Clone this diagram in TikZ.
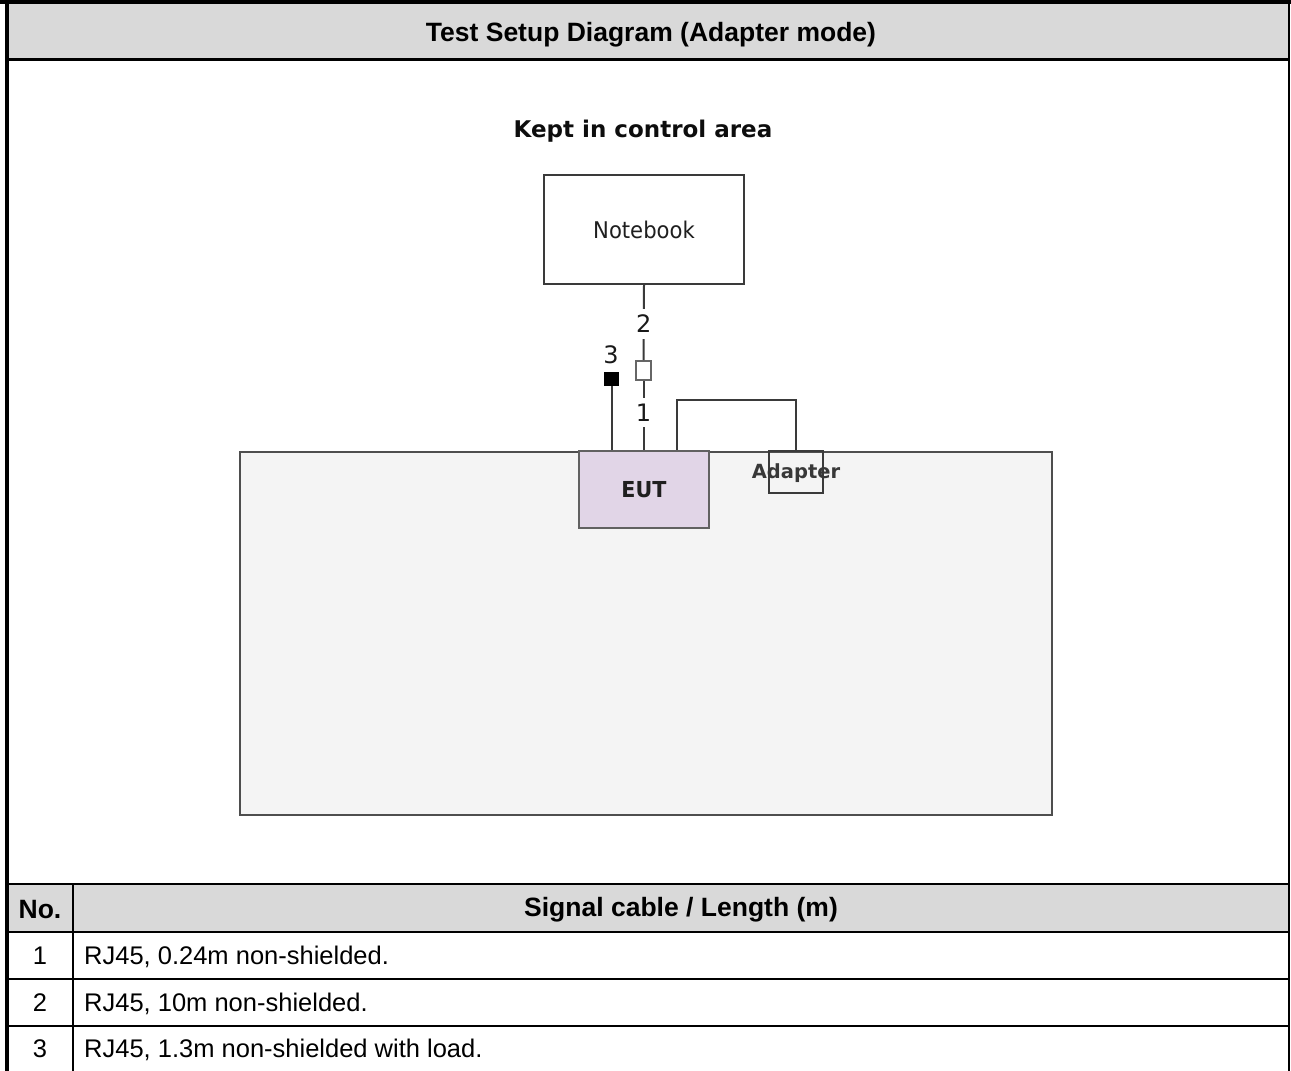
\documentclass[tikz,border=0pt]{standalone}
\usepackage{fontspec}
\setmainfont{Liberation Sans}
\newfontfamily\dejavu{DejaVu Sans}
\usepackage{graphicx}
\definecolor{hdrgray}{HTML}{D9D9D9}
\definecolor{panelgray}{HTML}{F4F4F4}
\definecolor{eutfill}{HTML}{E1D5E7}
\definecolor{linegray}{HTML}{3A3A3A}
\tikzset{
  hdrtext/.style={font=\fontsize{26.5}{30}\selectfont\bfseries, inner sep=0pt},
  celltext/.style={font=\fontsize{25.5}{30}\selectfont, inner sep=0pt},
  rule/.style={line width=2pt, black},
  boxstyle/.style={draw=linegray, line width=2pt, inner sep=0pt},
  cable/.style={draw=linegray, line width=2pt},
  cablelbl/.style={font=\dejavu\fontsize{24}{26}\selectfont, fill=white, inner xsep=1pt, inner ysep=6pt, text=black!90},
}
\begin{document}
\begin{tikzpicture}[x=1pt,y=-1pt]
\useasboundingbox (0,0) rectangle (1291,1071);
% header band
\fill[hdrgray] (9,4) rectangle (1288,58);
\node[hdrtext] (title) at (651,35) {Test Setup Diagram (Adapter mode)};
% table header band
\fill[hdrgray] (9,885) rectangle (1288,931);
% frame and table rules
\draw[line width=4pt] (0,2) -- (1291,2);
\draw[line width=4pt] (7,0) -- (7,1071);
\draw[line width=2pt] (1289,0) -- (1289,1071);
\draw[line width=3pt] (5,59) -- (1290,59);
\draw[line width=2.5pt] (5,884) -- (1290,884);
\draw[rule] (5,931.5) -- (1290,931.5);
\draw[rule] (5,978.5) -- (1290,978.5);
\draw[rule] (5,1025.5) -- (1290,1025.5);
\draw[rule] (73,884) -- (73,1071);
% table text
\node[hdrtext] (hno) at (40,910) {No.};
\node[hdrtext] (hcable) at (681,910) {Signal cable / Length (m)};
\node[celltext] (n1) at (40,956) {1};
\node[celltext] (n2) at (40,1003) {2};
\node[celltext] (n3) at (40,1049) {3};
\node[celltext, anchor=west] (t1) at (84,957) {RJ45, 0.24m non-shielded.};
\node[celltext, anchor=west] (t2) at (84,1004) {RJ45, 10m non-shielded.};
\node[celltext, anchor=west] (t3) at (84,1050) {RJ45, 1.3m non-shielded with load.};
% diagram
\node[font=\dejavu\bfseries\fontsize{23}{27}\selectfont, text=black!95, inner sep=0pt] (area) at (643,131) {Kept in control area};
\node[draw=linegray!90, fill=panelgray, line width=2pt, minimum width=812.5pt, minimum height=363pt, inner sep=0pt] (table) at (645.75,633) {};
\node[boxstyle, fill=white, minimum width=200pt, minimum height=109pt] (nb) at (644,229.5)
  {\dejavu\fontsize{23}{27}\selectfont\color{black!88}\scalebox{0.92}[1]{Notebook}};
\node[draw=linegray!80, fill=eutfill, line width=2.5pt, minimum width=130pt, minimum height=77pt, inner sep=0pt] (eut) at (644,489.5)
  {\dejavu\bfseries\fontsize{22}{26}\selectfont\color{black!88}\scalebox{0.94}[1]{EUT}};
\node[draw=linegray, line width=1.5pt, minimum width=54pt, minimum height=42pt, inner sep=0pt] (adapter) at (796,472) {};
\node[font=\dejavu\bfseries\fontsize{19.5}{23}\selectfont, text=black!78, inner sep=0pt] (adlbl) at (796,473) {Adapter};
\node[draw=black!60, fill=white, line width=2pt, minimum width=15pt, minimum height=19pt, inner sep=0pt] (conn) at (643.5,370.5) {};
\node[fill=black, minimum width=15pt, minimum height=14pt, inner sep=0pt] (load) at (611.5,379) {};
% cables
\draw[cable] (nb.south) -- node[cablelbl, pos=0.52] (c2) {2} (conn.north);
\draw[cable] (conn.south) -- node[cablelbl, pos=0.46] (c1) {1} (conn.south |- eut.north);
\draw[cable] (load.south) -- (load.south |- eut.north);
\node[font=\dejavu\fontsize{24}{26}\selectfont, text=black!90, inner sep=0pt] (c3) at (611,355) {3};
\draw[cable] ([xshift=33pt]eut.north) |- ([yshift=50pt]adapter.north) -- (adapter.north);
\end{tikzpicture}
\end{document}
